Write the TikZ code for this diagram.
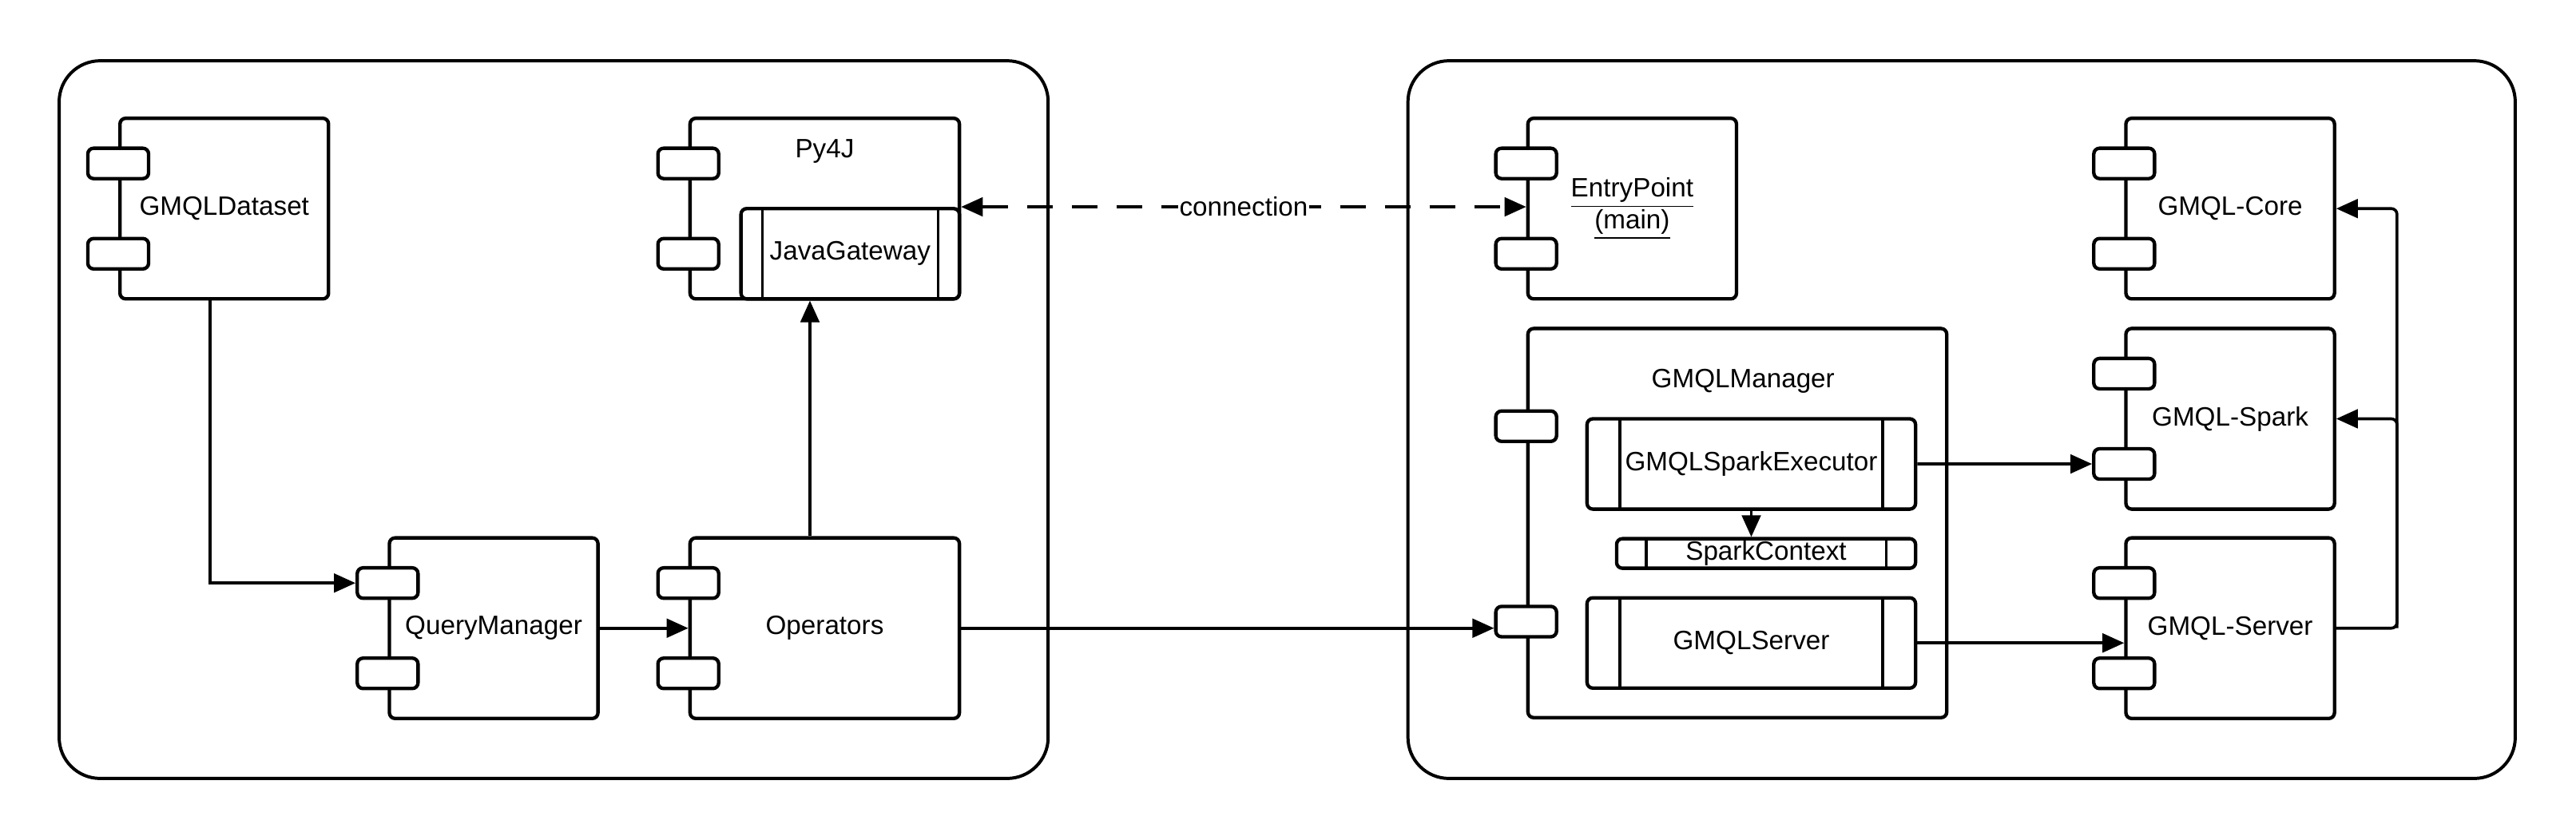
\documentclass[tikz,border=0pt]{standalone}
\usepackage{fontspec}
\setmainfont{Liberation Sans}
\usetikzlibrary{arrows.meta}

\begin{document}
\begin{tikzpicture}[x=0.02cm, y=-0.02cm, font=\fontsize{9.2}{11}\selectfont,
  >={Triangle[length=7.5pt,width=6.5pt]},
  frame/.style={draw, line width=1.1pt, rounded corners=0.5cm},
  comp/.style={draw, fill=white, line width=1.2pt, rounded corners=2pt, inner sep=0pt, minimum width=2.54cm, minimum height=2.2cm},
  port/.style={draw, fill=white, line width=1.2pt, rounded corners=2pt, inner sep=0pt, minimum width=0.74cm, minimum height=0.37cm},
  part/.style={draw, fill=white, line width=1.2pt, rounded corners=2pt, inner sep=0pt, path picture={
    \draw[line width=0.9pt] ([xshift=#1]path picture bounding box.north west) -- ([xshift=#1]path picture bounding box.south west);
    \draw[line width=0.9pt] ([xshift=-#1]path picture bounding box.north east) -- ([xshift=-#1]path picture bounding box.south east);}},
  link/.style={->, line width=1pt}]
\useasboundingbox (0,0) rectangle (1568,511);

% the two sides
\draw[frame] (36,37) rectangle (638,474);
\draw[frame] (857,37) rectangle (1531,474);

% python side
\node[comp] (ds) at (136.5,127) {GMQLDataset};
\node[comp, minimum width=3.28cm] (py) at (502,127) {};
\node (py-t) at (502,92) {Py4J};
\node[part=0.26cm, minimum width=2.66cm, minimum height=1.1cm] (jg) at (517.5,154.5) {JavaGateway};
\node[comp] (qm) at (300.5,382.5) {QueryManager};
\node[comp, minimum width=3.28cm] (op) at (502,382.5) {Operators};

% scala side
\node[comp, align=center] (ep) at (993.5,127) {\underline{EntryPoint}\\\underline{(main)}};
\node[comp] (core) at (1357.5,127) {GMQL-Core};
\node[comp, minimum width=5.1cm, minimum height=4.74cm] (gm) at (1057.5,318.5) {};
\node (gm-t) at (1061,232) {GMQLManager};
\node[part=0.4cm, minimum width=4cm, minimum height=1.1cm] (se) at (1066,282.5) {GMQLSparkExecutor};
\node[part=0.36cm, minimum width=3.64cm, minimum height=0.36cm] (sc) at (1075,337) {SparkContext};
\node[part=0.4cm, minimum width=4cm, minimum height=1.1cm] (gs) at (1066,391.5) {GMQLServer};
\node[comp] (sp) at (1357.5,255) {GMQL-Spark};
\node[comp] (sv) at (1357.5,382.5) {GMQL-Server};

% ports
\foreach \c in {ds,py,qm,op,ep,core,sp,sv} {
  \node[port] (\c-a) at ([yshift=0.55cm]\c.west) {};
  \node[port] (\c-b) at ([yshift=-0.55cm]\c.west) {};
}
\node[port] (gm-a) at ([yshift=1.18cm]gm.west) {};
\node[port] (gm-b) at ([yshift=-1.2cm]gm.west) {};

% connectors
\draw[link] ([xshift=-0.17cm]ds.south) |- (qm-a.west);
\draw[link] (qm.east) -- (op.west);
\draw[link] ([xshift=-0.18cm]op.north) -- ([xshift=-0.18cm]op.north |- jg.south);
\draw[link] (op.east) -- (op.east -| gm-b.west);
\draw[<->, line width=1pt, dash pattern=on 9pt off 6.5pt] (jg.north east) -- (jg.north east -| ep.west)
  node[midway, fill=white, inner sep=0.5pt] (conn) {connection};
\draw[link] (se.east) -- (sp-b.west);
\draw[link] (se.south) -- (se.south |- sc.north);
\draw[link] (gs.east) -- (gs.east -| sv.west);
\coordinate (bus) at ([xshift=0.74cm]sv.east);
\draw[link, rounded corners=2pt] (sv.east) -- (bus) |- (sp.east);
\draw[link, rounded corners=2pt] (bus) |- (core.east);
\end{tikzpicture}
\end{document}
